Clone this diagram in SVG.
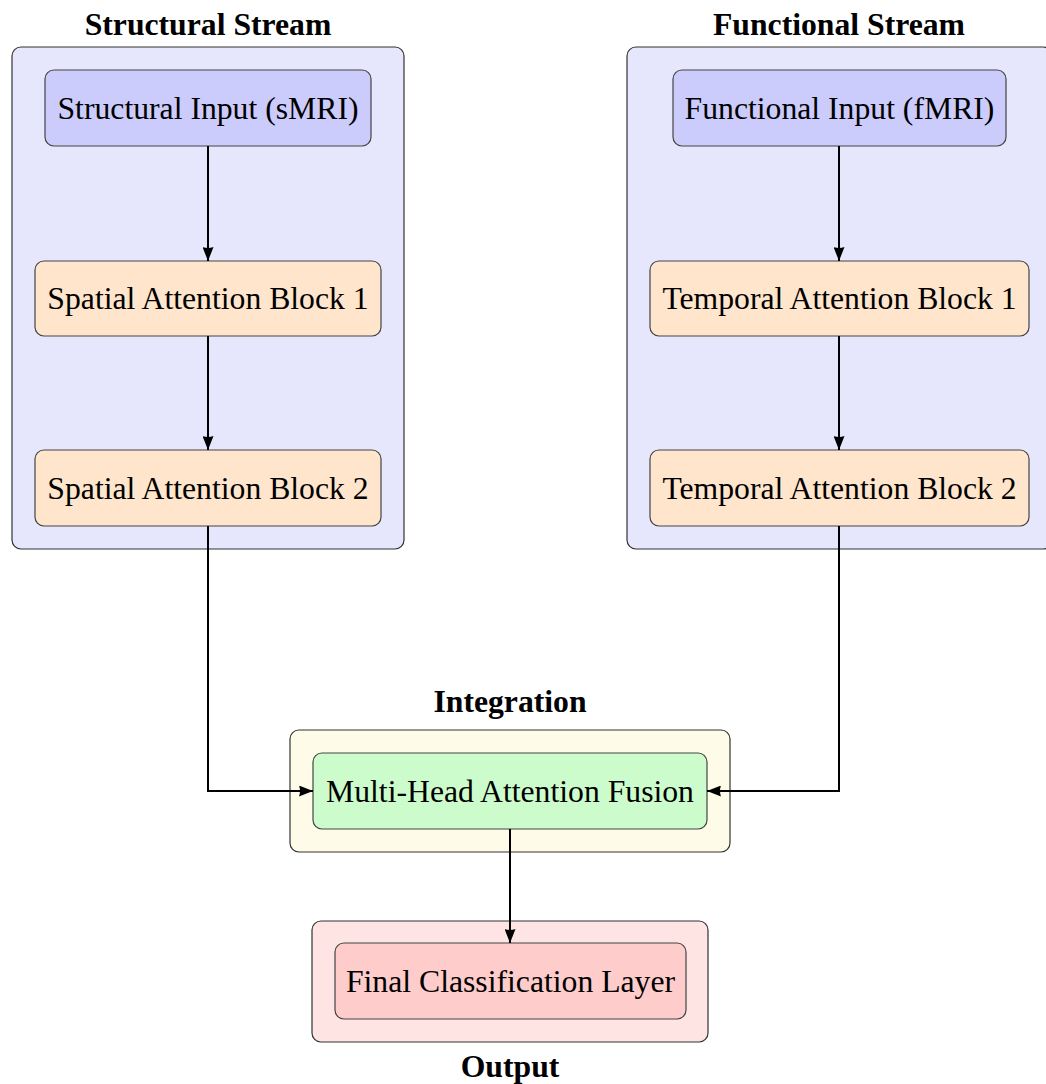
<svg xmlns="http://www.w3.org/2000/svg" width="1046" height="1084" viewBox="0 0 1046 1084">
  <style>
    .frame { stroke: #333; stroke-width: 1.2; }
    .node { stroke: #444; stroke-width: 1.2; }
    .label { font-family: "Liberation Serif", "Times New Roman", serif; font-size: 31.7px; fill: #000; text-anchor: middle; }
    .title { font-family: "Liberation Serif", "Times New Roman", serif; font-size: 31.7px; font-weight: bold; fill: #000; text-anchor: middle; }
    .wire { fill: none; stroke: #000; stroke-width: 2; }
  </style>
  <defs>
    <marker id="tip" viewBox="0 0 14 11" refX="14" refY="5.5" markerWidth="14" markerHeight="11" markerUnits="userSpaceOnUse" orient="auto">
      <path d="M0,0 L14,5.5 L0,11 Q2,5.5 0,0 Z" fill="#000"/>
    </marker>
  </defs>

  <!-- stream / stage containers -->
  <g id="structural-stream">
    <rect class="frame" x="12" y="47" width="392" height="502" rx="9" fill="#e6e6fc"/>
    <text class="title" x="208" y="35">Structural Stream</text>
  </g>
  <g id="functional-stream">
    <rect class="frame" x="627" y="47" width="425" height="502" rx="9" fill="#e6e6fc"/>
    <text class="title" x="839" y="35">Functional Stream</text>
  </g>
  <g id="integration">
    <rect class="frame" x="290" y="730" width="440" height="122" rx="9" fill="#fffbe9"/>
    <text class="title" x="510" y="712">Integration</text>
  </g>
  <g id="output">
    <rect class="frame" x="312" y="921" width="396" height="121" rx="9" fill="#ffe4e4"/>
    <text class="title" x="510" y="1077">Output</text>
  </g>

  <!-- processing nodes -->
  <g id="structural-input">
    <rect class="node" x="45" y="70" width="326" height="76" rx="9" fill="#ccccfc"/>
    <text class="label" x="208" y="118.5">Structural Input (sMRI)</text>
  </g>
  <g id="spatial-block-1">
    <rect class="node" x="35" y="261" width="346" height="75" rx="9" fill="#ffe5cc"/>
    <text class="label" x="208" y="309">Spatial Attention Block 1</text>
  </g>
  <g id="spatial-block-2">
    <rect class="node" x="35" y="450" width="346" height="76" rx="9" fill="#ffe5cc"/>
    <text class="label" x="208" y="498.5">Spatial Attention Block 2</text>
  </g>
  <g id="functional-input">
    <rect class="node" x="673" y="70" width="333" height="76" rx="9" fill="#ccccfc"/>
    <text class="label" x="839.5" y="118.5">Functional Input (fMRI)</text>
  </g>
  <g id="temporal-block-1">
    <rect class="node" x="650" y="261" width="379" height="75" rx="9" fill="#ffe5cc"/>
    <text class="label" x="839.5" y="309">Temporal Attention Block 1</text>
  </g>
  <g id="temporal-block-2">
    <rect class="node" x="650" y="450" width="379" height="76" rx="9" fill="#ffe5cc"/>
    <text class="label" x="839.5" y="498.5">Temporal Attention Block 2</text>
  </g>
  <g id="fusion">
    <rect class="node" x="313" y="753" width="394" height="76" rx="9" fill="#ccfccc"/>
    <text class="label" x="510" y="801.5">Multi-Head Attention Fusion</text>
  </g>
  <g id="classifier">
    <rect class="node" x="335" y="943" width="351" height="76" rx="9" fill="#ffcccc"/>
    <text class="label" x="510.5" y="991.5">Final Classification Layer</text>
  </g>

  <!-- connectors -->
  <g id="connectors">
    <path class="wire" d="M208,146 V261" marker-end="url(#tip)"/>
    <path class="wire" d="M208,336 V450" marker-end="url(#tip)"/>
    <path class="wire" d="M839,146 V261" marker-end="url(#tip)"/>
    <path class="wire" d="M839,336 V450" marker-end="url(#tip)"/>
    <path class="wire" d="M208,526 V791 H313" marker-end="url(#tip)"/>
    <path class="wire" d="M839,526 V791 H707" marker-end="url(#tip)"/>
    <path class="wire" d="M510,829 V943" marker-end="url(#tip)"/>
  </g>
</svg>
